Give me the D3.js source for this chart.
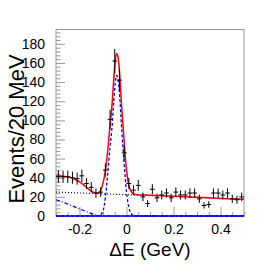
<!DOCTYPE html>
<html>
<head>
<meta charset="utf-8">
<script src="https://cdn.jsdelivr.net/npm/d3@7"></script>
<style>
    body { margin: 0; background: #fff; }
    #chart { width: 273px; height: 273px; }
    text { font-family: "Liberation Sans", Arial, sans-serif; }
</style>
</head>
<body>
<div id="chart"></div>
<script>
// histogram: bin centres (20 MeV bins) and counts
const binCenters = [-0.29, -0.27, -0.25, -0.23, -0.21, -0.19, -0.17, -0.15, -0.13, -0.11,
    -0.09, -0.07, -0.05, -0.03, -0.01, 0.01, 0.03, 0.05, 0.07, 0.09,
    0.11, 0.13, 0.15, 0.17, 0.19, 0.21, 0.23, 0.25, 0.27, 0.29,
    0.31, 0.33, 0.35, 0.37, 0.39, 0.41, 0.43, 0.45, 0.47, 0.49];
const counts = [41, 41, 41, 40, 39, 42, 34, 30, 24, 25,
    48, 101, 162, 142, 66, 34, 27, 32, 20, 13,
    28, 19, 22, 24, 19, 25, 22, 22, 24, 24,
    18, 11, 12, 24, 24, 22, 24, 18, 17, 20];

// fit curves [dE, events]
const totalFit = [[-0.30, 41.8], [-0.28, 41.8], [-0.26, 41.4], [-0.24, 40.4], [-0.22, 38.3],
    [-0.20, 35.8], [-0.18, 32], [-0.16, 27.8], [-0.14, 24.5], [-0.125, 23.7], [-0.115, 24.7],
    [-0.104, 30.6], [-0.091, 45], [-0.08, 68], [-0.07, 95], [-0.063, 112], [-0.055, 140],
    [-0.048, 162], [-0.042, 170], [-0.036, 166], [-0.03, 152], [-0.02, 112], [-0.01, 78],
    [0.00, 48], [0.01, 32], [0.02, 25.5], [0.03, 23], [0.05, 22.2], [0.10, 21.7],
    [0.20, 20.6], [0.30, 19.5], [0.40, 18.4], [0.50, 17.4]];
const signalFit = [[-0.30, 0], [-0.13, 0], [-0.12, 0.3], [-0.11, 1.5], [-0.10, 5], [-0.09, 19],
    [-0.08, 44], [-0.07, 72], [-0.063, 89], [-0.055, 117], [-0.048, 139], [-0.042, 147],
    [-0.036, 143], [-0.03, 129], [-0.02, 89], [-0.01, 55], [0.00, 25], [0.01, 9],
    [0.02, 2.5], [0.03, 0.5], [0.04, 0], [0.50, 0]];
const flatBkg = [[-0.30, 25], [0.10, 21.3], [0.50, 17.5]];
const peakingBkg = [[-0.30, 17], [-0.28, 15.5], [-0.26, 13.5], [-0.24, 11.5], [-0.22, 9.5],
    [-0.20, 7.5], [-0.18, 5.5], [-0.16, 3.5], [-0.14, 1.8], [-0.12, 0.5], [-0.11, 0], [0.50, 0]];

const xMajor = [-0.2, 0, 0.2, 0.4];
const xMinor = [-0.3, -0.25, -0.15, -0.1, -0.05, 0.05, 0.1, 0.15, 0.25, 0.3, 0.35, 0.45, 0.5];
const yMajor = [0, 20, 40, 60, 80, 100, 120, 140, 160, 180];

const binWidth = 0.02;

const width = document.querySelector("#chart").clientWidth;
const height = document.querySelector("#chart").clientHeight;

const svg = d3.select("#chart")
    .append("svg")
    .attr("width", width)
    .attr("height", height);

const margin = {top: 29.5, left: 56, right: 29, bottom: 57};

const xScale = d3.scaleLinear()
    .domain([-0.3, 0.5])
    .range([margin.left, width - margin.right]);

const yScale = d3.scaleLinear()
    .domain([0, 195])
    .range([height - margin.bottom, margin.top]);

// frame
svg.append("rect")
    .attr("x", margin.left)
    .attr("y", margin.top)
    .attr("width", width - margin.left - margin.right)
    .attr("height", height - margin.top - margin.bottom)
    .style("fill", "none")
    .style("stroke", "#999")
    .style("stroke-width", 1);

// y axis (ticks inside)
const yMinorTicks = d3.range(0, 195, 4).filter(v => v % 20 !== 0);
svg.append("g")
    .attr("transform", `translate(${margin.left},0)`)
    .call(d3.axisLeft(yScale).tickValues(yMinorTicks).tickSize(-4.5).tickFormat(""))
    .call(g => g.select(".domain").remove())
    .call(g => g.selectAll("line").style("stroke", "#999"));

svg.append("g")
    .attr("transform", `translate(${margin.left},0)`)
    .call(d3.axisLeft(yScale).tickValues(yMajor).tickSize(-9).tickPadding(11))
    .call(g => g.select(".domain").remove())
    .call(g => g.selectAll("line").style("stroke", "#999"))
    .call(g => g.selectAll("text").style("font-size", "14px").style("fill", "#000"));

// x axis (ticks inside)
svg.append("g")
    .attr("transform", `translate(0,${height - margin.bottom})`)
    .call(d3.axisBottom(xScale).tickValues(xMinor).tickSize(-4).tickFormat(""))
    .call(g => g.select(".domain").remove())
    .call(g => g.selectAll("line").style("stroke", "#999"));

svg.append("g")
    .attr("transform", `translate(0,${height - margin.bottom})`)
    .call(d3.axisBottom(xScale).tickValues(xMajor).tickSize(-9).tickPadding(8)
        .tickFormat(d => d === 0 ? "0" : d3.format(".1f")(d).replace("\u2212", "-")))
    .call(g => g.select(".domain").remove())
    .call(g => g.selectAll("line").style("stroke", "#999"))
    .call(g => g.selectAll("text").style("font-size", "14px").style("fill", "#000"));

// curves
const line = d3.line()
    .x(d => xScale(d[0]))
    .y(d => yScale(d[1]))
    .curve(d3.curveMonotoneX);

svg.append("path")
    .datum(peakingBkg)
    .attr("d", line)
    .style("fill", "none")
    .style("stroke", "#0000ff")
    .style("stroke-width", 1.2)
    .style("stroke-dasharray", "4,2,1,2");

svg.append("path")
    .datum(flatBkg)
    .attr("d", line)
    .style("fill", "none")
    .style("stroke", "#0000ff")
    .style("stroke-width", 1.2)
    .style("stroke-dasharray", "1,2");

svg.append("path")
    .datum(signalFit)
    .attr("d", line)
    .style("fill", "none")
    .style("stroke", "#0000ff")
    .style("stroke-width", 1.3)
    .style("stroke-dasharray", "3,2");

// bottom line (blue)
svg.append("line")
    .attr("x1", xScale(-0.3))
    .attr("x2", xScale(0.5))
    .attr("y1", yScale(0))
    .attr("y2", yScale(0))
    .style("stroke", "#0000ff")
    .style("stroke-width", 1.3);

svg.append("path")
    .datum(totalFit)
    .attr("d", line)
    .style("fill", "none")
    .style("stroke", "#ff0000")
    .style("stroke-width", 1.5);

// data points with errors
const points = svg.selectAll(".pt")
    .data(binCenters.map((c, i) => ({x: c, n: counts[i]})))
    .enter()
    .append("g")
    .attr("class", "pt");

points.append("line")
    .attr("x1", d => xScale(d.x - binWidth / 2))
    .attr("x2", d => xScale(d.x + binWidth / 2))
    .attr("y1", d => yScale(d.n))
    .attr("y2", d => yScale(d.n))
    .style("stroke", "#000")
    .style("stroke-width", 1);

points.append("line")
    .attr("x1", d => xScale(d.x))
    .attr("x2", d => xScale(d.x))
    .attr("y1", d => yScale(d.n - Math.sqrt(d.n)))
    .attr("y2", d => yScale(d.n + Math.sqrt(d.n)))
    .style("stroke", "#000")
    .style("stroke-width", 1);

// labels
svg.append("text")
    .attr("x", 150)
    .attr("y", 256)
    .attr("text-anchor", "middle")
    .style("font-size", "19px")
    .text("\u0394E (GeV)");

svg.append("text")
    .attr("transform", "rotate(-90)")
    .attr("x", -129)
    .attr("y", 24)
    .attr("text-anchor", "middle")
    .style("font-size", "22px")
    .text("Events/20 MeV");
</script>
</body>
</html>
